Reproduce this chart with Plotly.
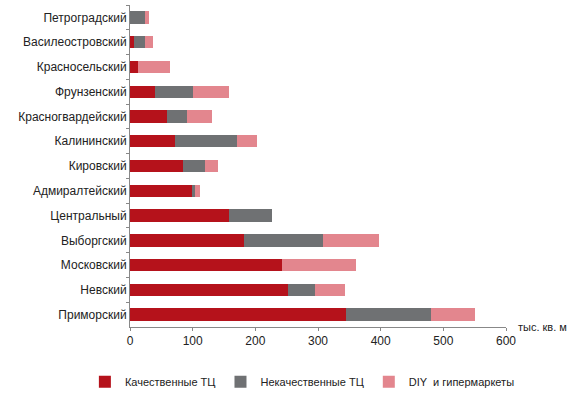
import plotly.graph_objects as go

districts = ["Петроградский", "Василеостровский", "Красносельский", "Фрунзенский",
             "Красногвардейский", "Калининский", "Кировский", "Адмиралтейский",
             "Центральный", "Выборгский", "Московский", "Невский", "Приморский"]
quality = [0, 6, 13, 40, 59, 72, 84, 99, 158, 182, 243, 252, 345]
low_quality = [24, 18, 0, 61, 32, 99, 35, 4, 68, 126, 0, 43, 135]
diy = [6, 13, 51, 57, 40, 31, 21, 8, 0, 90, 117, 48, 71]

series_names = ["Качественные ТЦ", "Некачественные ТЦ", "DIY  и гипермаркеты"]
colors = ["#B5121B", "#6F7173", "#E3868E"]
x_ticks = [0, 100, 200, 300, 400, 500, 600]
unit_label = "тыс. кв. м"

FONT = "Liberation Sans, Arial, sans-serif"

fig = go.Figure()
for name, vals, col in zip(series_names, [quality, low_quality, diy], colors):
    fig.add_trace(go.Bar(y=districts, x=vals, name=name, orientation="h",
                         marker=dict(color=col, line=dict(width=0))))

fig.update_layout(
    barmode="stack",
    bargap=0.5,
    width=581, height=396,
    margin=dict(l=130, r=75, t=5, b=69, autoexpand=False),
    paper_bgcolor="white", plot_bgcolor="white",
    font=dict(family=FONT, size=12, color="#222222"),
    showlegend=True,
    legend=dict(orientation="h",
                x=-0.12, xanchor="left", y=-0.17, yanchor="middle",
                font=dict(size=11, color="#222222"), traceorder="normal",
                itemwidth=30, tracegroupgap=0),
    xaxis=dict(range=[0, 600], tickvals=x_ticks, showgrid=False, zeroline=False,
               showline=True, linecolor="#888888", linewidth=1,
               ticks="outside", ticklen=3, tickcolor="#888888", automargin=False,
               tickfont=dict(size=12, color="#222222")),
    yaxis=dict(autorange="reversed", showgrid=False, showline=True,
               linecolor="#888888", linewidth=1, ticks="outside", ticklen=3,
               tickcolor="#888888", tickson="boundaries", automargin=False,
               tickfont=dict(size=12, color="#222222")),
)
fig.add_annotation(text=unit_label, xref="paper", yref="paper", x=1, y=0,
                   xanchor="left", yanchor="middle", xshift=10, showarrow=False,
                   font=dict(size=11, color="#222222"))

fig.write_html("out.html", config={"displayModeBar": False},
               post_script="document.body.style.margin='0';")
